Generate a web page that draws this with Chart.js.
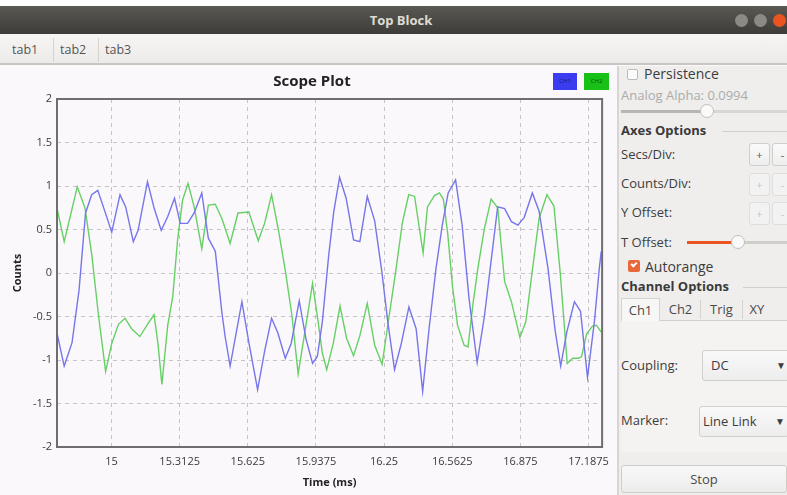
<!DOCTYPE html>
<html><head><meta charset="utf-8">
<script src="https://cdn.jsdelivr.net/npm/chart.js@4"></script>
<style>
*{box-sizing:border-box;margin:0;padding:0}
body{width:787px;height:495px;overflow:hidden;background:#fbf8fb;font-family:"Open Sans",sans-serif;position:relative;color:#3c3c3c}
.a{position:absolute;white-space:nowrap}
#topstrip{left:0;top:0;width:787px;height:6px;background:#fdfdfd}
#titlebar{left:0;top:6px;width:787px;height:28px;background:linear-gradient(#5a5853,#3d3c38);}
#titletext{left:0;top:6px;width:802px;height:28px;line-height:28px;text-align:center;color:#dfdbd2;font-weight:bold;font-size:13px}
.wb{width:13px;height:13px;border-radius:50%;top:14px;background:#8c8a84}
#tabbar{left:0;top:34px;width:787px;height:31px;background:linear-gradient(#f6f5f4,#ecebe9);border-bottom:2px solid #c9c6c2}
.tb{top:41px;font-size:12.5px;color:#555}
.sep{top:38px;width:1px;height:24px;background:#d6d3cf}
#panel{left:617px;top:66px;width:170px;height:429px;background:#efeeed;border-left:2px solid #d8d6d4}
.lbl{font-size:13px;color:#3c3c3c}
.btn{width:21px;height:23px;border:1px solid #d0cecb;border-radius:3px;background:linear-gradient(#fafafa,#eeeeee);font-size:11px;text-align:center;line-height:21px;color:#555}
.dis{color:#c4c4c4;background:#f2f2f2;border-color:#e0dedc}
.grp{font-size:13px;font-weight:bold;color:#3a3a3a}
.hl{height:1px;background:#d2d0cd}
.tab{top:298px;height:23px;font-size:13px;text-align:center;line-height:22px;color:#4a4a4a}
.combo{width:90px;height:31px;border:1px solid #d2d0cd;border-radius:3px;background:linear-gradient(#f9f9f9,#ededed);font-size:13px;line-height:29px;color:#3c3c3c}
</style></head>
<body>
<div class="a" id="topstrip"></div>
<div class="a" id="titlebar"></div>
<div class="a" id="titletext">Top Block</div>
<div class="a wb" style="left:735px"></div>
<div class="a wb" style="left:754px"></div>
<div class="a wb" style="left:773px;background:#e95420"></div>
<div class="a" id="tabbar"></div>
<div class="a tb" style="left:12px">tab1</div>
<div class="a sep" style="left:53px"></div>
<div class="a tb" style="left:60px">tab2</div>
<div class="a sep" style="left:98px"></div>
<div class="a tb" style="left:105px">tab3</div>

<div class="a" style="left:0;top:66px;width:617px;height:429px">
<canvas id="c" width="617" height="429" style="width:617px;height:429px"></canvas>
</div>
<div class="a" style="left:553px;top:73px;width:24px;height:17px;background:#3b3bef;font-size:6px;line-height:17px;text-align:center;color:#202060">CH1</div>
<div class="a" style="left:584px;top:73px;width:25px;height:17px;background:#18c018;font-size:6px;line-height:17px;text-align:center;color:#105010">CH2</div>

<div class="a" id="panel"></div>
<div class="a" style="left:627px;top:69px;width:11px;height:11px;border:1px solid #bdbbb8;background:#fbfbfb;border-radius:2px"></div>
<div class="a" style="left:644px;top:64px;font-size:14px;color:#3c3c3c">Persistence</div>
<div class="a lbl" style="left:621px;top:86px;color:#ababab">Analog Alpha: 0.0994</div>
<div class="a" style="left:621px;top:110px;width:166px;height:3px;background:#d8d6d3"></div>
<div class="a" style="left:621px;top:110px;width:82px;height:3px;background:#b8b6b3"></div>
<div class="a" style="left:700px;top:104px;width:14px;height:14px;border-radius:50%;border:1px solid #c2c0bd;background:#fafafa"></div>
<div class="a grp" style="left:621px;top:121px">Axes Options</div>
<div class="a hl" style="left:722px;top:131px;width:65px"></div>
<div class="a lbl" style="left:621px;top:145px">Secs/Div:</div>
<div class="a btn" style="left:749px;top:143px">+</div>
<div class="a btn" style="left:772px;top:143px">-</div>
<div class="a lbl" style="left:621px;top:174px">Counts/Div:</div>
<div class="a btn dis" style="left:749px;top:173px">+</div>
<div class="a btn dis" style="left:772px;top:173px">-</div>
<div class="a lbl" style="left:621px;top:203px">Y Offset:</div>
<div class="a btn dis" style="left:749px;top:202px">+</div>
<div class="a btn dis" style="left:772px;top:202px">-</div>
<div class="a lbl" style="left:621px;top:233px">T Offset:</div>
<div class="a" style="left:687px;top:241px;width:100px;height:3px;background:#d0cecb"></div>
<div class="a" style="left:687px;top:241px;width:46px;height:3px;background:#e95420"></div>
<div class="a" style="left:731px;top:235px;width:14px;height:14px;border-radius:50%;border:1px solid #c2c0bd;background:#fafafa"></div>
<div class="a" style="left:628px;top:260px;width:12px;height:12px;border-radius:2px;background:#e8683a"></div>
<div class="a" style="left:631px;top:262px;width:6px;height:4px;border-left:2px solid #fff;border-bottom:2px solid #fff;transform:rotate(-45deg)"></div>
<div class="a" style="left:645px;top:257px;font-size:14px;color:#3c3c3c">Autorange</div>
<div class="a grp" style="left:621px;top:277px">Channel Options</div>
<div class="a hl" style="left:743px;top:287px;width:44px"></div>
<div class="a" style="left:621px;top:320px;width:166px;height:132px;background:#f4f3f2;border-top:1px solid #d2d0cd"></div>
<div class="a tab" style="left:621px;width:39px;background:#f7f7f6;border:1px solid #d6d4d1;border-bottom:none">Ch1</div>
<div class="a tab" style="left:661px;width:39px">Ch2</div>
<div class="a sep" style="left:700px;top:300px;height:19px"></div>
<div class="a tab" style="left:701px;width:41px">Trig</div>
<div class="a sep" style="left:742px;top:300px;height:19px"></div>
<div class="a tab" style="left:743px;width:28px">XY</div>
<div class="a lbl" style="left:621px;top:356px">Coupling:</div>
<div class="a combo" style="left:702px;top:350px;padding-left:8px">DC<span style="position:absolute;left:73px;font-size:10px">&#9660;</span></div>
<div class="a lbl" style="left:621px;top:411px">Marker:</div>
<div class="a combo" style="left:699px;top:406px;padding-left:3px">Line Link<span style="position:absolute;left:75px;font-size:10px">&#9660;</span></div>
<div class="a" style="left:621px;top:465px;width:166px;height:28px;border:1px solid #cfcdca;border-radius:3px;background:linear-gradient(#f8f8f8,#ececec);text-align:center;line-height:26px;font-size:13px;color:#4a4a4a;padding-right:0">Stop</div>

<script>
// ---- data (time in ms, amplitude in counts) ----
const ch1Time = [14.749,14.783,14.819,14.851,14.881,14.909,14.937,14.968,15.001,15.039,15.065,15.100,15.122,15.165,15.195,15.228,15.258,15.289,15.315,15.349,15.379,15.414,15.444,15.476,15.506,15.521,15.544,15.571,15.598,15.630,15.670,15.702,15.734,15.763,15.797,15.824,15.861,15.892,15.922,15.944,15.967,15.996,16.019,16.046,16.076,16.110,16.139,16.173,16.207,16.239,16.268,16.298,16.329,16.364,16.397,16.427,16.456,16.488,16.517,16.544,16.578,16.608,16.640,16.677,16.710,16.739,16.771,16.803,16.834,16.864,16.893,16.930,16.961,17.002,17.034,17.060,17.088,17.123,17.151,17.183,17.215,17.237,17.246];
const ch1Counts = [-0.68,-1.07,-0.80,-0.20,0.69,0.90,0.95,0.72,0.47,0.90,0.76,0.36,0.49,1.05,0.75,0.49,0.65,0.86,0.57,0.57,0.69,0.92,0.40,0.25,-0.45,-0.73,-1.07,-0.70,-0.33,-0.80,-1.34,-0.90,-0.52,-0.69,-0.98,-0.81,-0.32,-0.76,-1.04,-0.96,-0.56,0.20,0.70,1.10,0.86,0.38,0.36,0.88,0.60,0.03,-0.58,-1.11,-0.81,-0.39,-0.64,-1.36,-0.65,0.05,0.55,0.92,1.07,0.55,-0.30,-1.03,-0.50,0.10,0.76,0.74,0.59,0.55,0.64,0.92,0.71,0.05,-0.65,-1.07,-0.68,-0.33,-0.44,-1.20,-0.55,0.05,0.25];
const ch2Time = [14.748,14.783,14.843,14.878,14.909,14.941,14.973,15.001,15.032,15.062,15.092,15.130,15.168,15.195,15.213,15.231,15.258,15.281,15.303,15.326,15.351,15.379,15.414,15.444,15.476,15.507,15.544,15.580,15.630,15.673,15.702,15.734,15.765,15.797,15.827,15.856,15.888,15.922,15.947,15.967,15.987,16.017,16.048,16.078,16.110,16.139,16.173,16.207,16.241,16.273,16.304,16.334,16.363,16.390,16.429,16.449,16.481,16.504,16.522,16.542,16.564,16.587,16.617,16.635,16.658,16.680,16.710,16.741,16.771,16.803,16.834,16.873,16.900,16.929,16.961,16.997,17.029,17.058,17.090,17.115,17.142,17.156,17.179,17.206,17.224,17.246];
const ch2Counts = [0.77,0.36,0.99,0.75,0.22,-0.50,-1.13,-0.81,-0.59,-0.52,-0.64,-0.73,-0.58,-0.48,-0.81,-1.28,-0.60,-0.27,0.38,0.84,1.03,0.76,0.28,0.78,0.79,0.62,0.34,0.69,0.70,0.37,0.57,0.90,0.50,0.03,-0.48,-1.16,-0.66,-0.12,-0.55,-0.92,-1.11,-0.81,-0.38,-0.75,-0.95,-0.72,-0.35,-0.83,-1.05,-0.50,0.03,0.58,0.90,0.88,0.23,0.76,0.89,0.92,0.85,0.45,-0.16,-0.60,-0.83,-0.85,-0.35,0.05,0.51,0.85,0.75,-0.10,-0.33,-0.74,-0.56,0.01,0.63,0.90,0.77,0.00,-1.04,-0.98,-0.98,-0.96,-0.70,-0.61,-0.60,-0.68];
const xTickValues = [15, 15.3125, 15.625, 15.9375, 16.25, 16.5625, 16.875, 17.1875];
const xTickLabels = ["15","15.3125","15.625","15.9375","16.25","16.5625","16.875","17.1875"];
const yTickValues = [-2,-1.5,-1,-0.5,0,0.5,1,1.5,2];
const yTickLabels = ["-2","-1.5","-1","-0.5","0","0.5","1","1.5","2"];
const seriesNames = ["Data 0", "Data 1"];

const toPts = (xs, ys) => xs.map((x, i) => ({x: x, y: ys[i]}));

const framePlugin = {
  id: 'frame',
  afterDatasetsDraw(chart) {
    const a = chart.chartArea, ctx = chart.ctx;
    ctx.save();
    ctx.strokeStyle = '#6e6e6e';
    ctx.lineWidth = 2;
    ctx.strokeRect(a.left, a.top, a.right - a.left, a.bottom - a.top);
    ctx.restore();
  }
};

const tickFont = {family: '"Open Sans", sans-serif', size: 11};
new Chart(document.getElementById('c'), {
  type: 'line',
  data: {
    datasets: [
      {label: seriesNames[0], data: toPts(ch1Time, ch1Counts), borderColor: '#7676ea', borderWidth: 1.4, pointRadius: 0, tension: 0, fill: false},
      {label: seriesNames[1], data: toPts(ch2Time, ch2Counts), borderColor: '#66d066', borderWidth: 1.4, pointRadius: 0, tension: 0, fill: false}
    ]
  },
  plugins: [framePlugin],
  options: {
    responsive: false,
    animation: false,
    devicePixelRatio: 1,
    layout: {padding: {left: 15, right: 8, top: 0, bottom: 0}},
    plugins: {
      legend: {display: false},
      tooltip: {enabled: false},
      title: {display: true, text: 'Scope Plot', color: '#222', font: {family: '"Open Sans", sans-serif', size: 15, weight: 'bold', lineHeight: 1.2}, padding: {top: 7, bottom: 8}}
    },
    scales: {
      x: {
        type: 'linear', min: 14.75, max: 17.25,
        afterBuildTicks: s => { s.ticks = xTickValues.map(v => ({value: v})); },
        afterFit: s => { s.height = 48; },
        ticks: {autoSkip: false, maxRotation: 0, padding: 8, color: '#3a3a3a', font: tickFont,
          callback: v => xTickLabels[xTickValues.indexOf(v)]},
        grid: {color: '#c6c3c6', lineWidth: 1, drawTicks: false},
        border: {display: false, dash: [4, 4]},
        title: {display: true, text: 'Time (ms)', color: '#222', font: {family: '"Open Sans", sans-serif', size: 11, weight: 'bold'}, padding: {top: 0, bottom: 6}}
      },
      y: {
        min: -2, max: 2,
        afterBuildTicks: s => { s.ticks = yTickValues.map(v => ({value: v})); },
        afterFit: s => { s.width = 42; },
        ticks: {padding: 5, color: '#3a3a3a', font: tickFont,
          callback: v => yTickLabels[yTickValues.indexOf(v)]},
        grid: {color: '#c6c3c6', lineWidth: 1, drawTicks: false},
        border: {display: false, dash: [4, 4]},
        title: {display: true, text: 'Counts', color: '#222', font: {family: '"Open Sans", sans-serif', size: 11, weight: 'bold'}, padding: {top: -4, bottom: 0}}
      }
    }
  }
});
</script>
</body></html>
